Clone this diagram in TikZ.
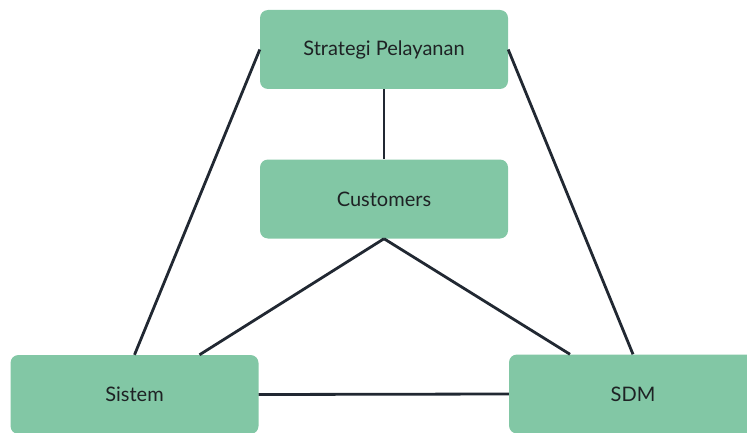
\documentclass[tikz,border=0pt]{standalone}
\usepackage{fontspec}
\setmainfont{Lato}
\usetikzlibrary{positioning}

\definecolor{boxgreen}{RGB}{130,199,165}
\definecolor{linedark}{RGB}{33,40,50}
\definecolor{textdark}{RGB}{30,34,36}

\tikzset{
    box/.style  = {rectangle, rounded corners = 8pt, fill = boxgreen, draw = none,
                   minimum width = 248pt, minimum height = 79pt,
                   text = textdark, font = \fontsize{20}{22}\selectfont},
    link/.style = {linedark, line width = 2.8pt}
}

\begin{document}
\begin{tikzpicture}[x = 1pt, y = 1pt]
    \useasboundingbox (0,0) rectangle (747,432);

    \node [box] (strategi)  at (384,382.5) {Strategi Pelayanan};
    \node [box] (customers) at (384,233)   {Customers};
    \node [box] (sistem)    at (134.5,37.5) {Sistem};
    \node [box] (sdm)       at (633,38)    {SDM};

    \draw [link] (strategi.west)  -- (sistem.north);
    \draw [link] (strategi.east)  -- (sdm.north);
    \draw [link] (strategi.south) -- (customers.north);

    \draw [link] (customers.south) -- ([xshift = 65pt]sistem.north);
    \draw [link] (customers.south) -- ([xshift = -63pt]sdm.north);

    \draw [link] (sistem.east) -- (sdm.west);
\end{tikzpicture}
\end{document}
